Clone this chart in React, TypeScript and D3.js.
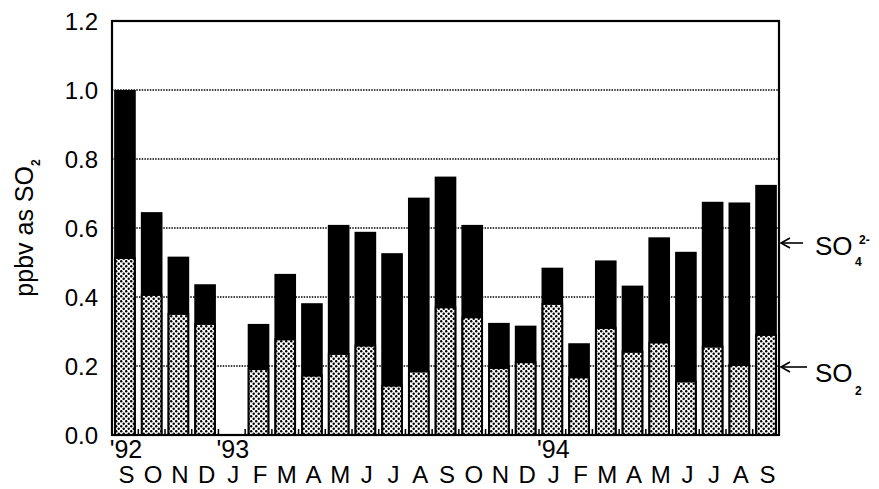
import React, { useRef, useEffect } from "react";
import * as d3 from "d3";

// months Sep '92 .. Sep '94 (Jan '93 has no data)
const periods = [
  "1992-09", "1992-10", "1992-11", "1992-12", "1993-01", "1993-02", "1993-03",
  "1993-04", "1993-05", "1993-06", "1993-07", "1993-08", "1993-09", "1993-10",
  "1993-11", "1993-12", "1994-01", "1994-02", "1994-03", "1994-04", "1994-05",
  "1994-06", "1994-07", "1994-08", "1994-09",
];
const monthLabels = ["S", "O", "N", "D", "J", "F", "M", "A", "M", "J", "J", "A", "S",
  "O", "N", "D", "J", "F", "M", "A", "M", "J", "J", "A", "S"];
const yearLabels = [
  { period: "1992-09", label: "'92" },
  { period: "1993-01", label: "'93" },
  { period: "1994-01", label: "'94" },
];

// ppbv as SO2
const so2 = [0.513, 0.406, 0.351, 0.322, null, 0.191, 0.277, 0.172, 0.235, 0.259, 0.143,
  0.184, 0.370, 0.341, 0.194, 0.211, 0.380, 0.167, 0.310, 0.241, 0.268, 0.155, 0.256,
  0.203, 0.290];
const so4 = [0.487, 0.240, 0.166, 0.115, null, 0.131, 0.190, 0.210, 0.374, 0.330, 0.384,
  0.504, 0.379, 0.268, 0.131, 0.106, 0.105, 0.099, 0.196, 0.192, 0.305, 0.376, 0.420,
  0.471, 0.435];

const yTicks = [0, 0.2, 0.4, 0.6, 0.8, 1.0, 1.2];

const FONT = "'Liberation Sans', Arial, Helvetica, sans-serif";

const App = () => {
  const ref = useRef<SVGSVGElement>(null);

  useEffect(() => {
    if (!ref.current) return;
    const svg = d3.select(ref.current);
    svg.selectAll("*").remove();

    const left = 112, right = 779, top = 21, bottom = 435;

    const x = d3.scaleBand<string>()
      .domain(periods)
      .range([left, right])
      .paddingInner(0.19)
      .paddingOuter(0.08);
    const y = d3.scaleLinear().domain([0, 1.2]).range([bottom, top]);

    // stipple pattern for SO2
    const pat = svg.append("defs").append("pattern")
      .attr("id", "stipple")
      .attr("patternUnits", "userSpaceOnUse")
      .attr("width", 5)
      .attr("height", 5);
    pat.append("rect").attr("width", 5).attr("height", 5).attr("fill", "#fff");
    pat.append("circle").attr("cx", 1.2).attr("cy", 1.2).attr("r", 1.2).attr("fill", "#000");
    pat.append("circle").attr("cx", 3.7).attr("cy", 3.7).attr("r", 1.2).attr("fill", "#000");

    // dotted gridlines
    svg.append("g")
      .selectAll("line")
      .data(yTicks.filter(t => t > 0 && t < 1.2))
      .join("line")
      .attr("x1", left)
      .attr("x2", right)
      .attr("y1", d => y(d))
      .attr("y2", d => y(d))
      .attr("stroke", "#000")
      .attr("stroke-width", 1.3)
      .attr("stroke-dasharray", "1.5,1.2");

    const data = periods.map((p, i) => ({ p, so2: so2[i], so4: so4[i] }))
      .filter(d => d.so2 != null);

    const bars = svg.append("g").selectAll("g").data(data).join("g");
    bars.append("rect")
      .attr("x", d => x(d.p)!)
      .attr("width", x.bandwidth())
      .attr("y", d => y(d.so2! + d.so4!))
      .attr("height", d => y(0) - y(d.so2! + d.so4!))
      .attr("fill", "#000");
    bars.append("rect")
      .attr("x", d => x(d.p)! + 1)
      .attr("width", x.bandwidth() - 2)
      .attr("y", d => y(d.so2!))
      .attr("height", d => y(0) - y(d.so2!))
      .attr("fill", "url(#stipple)")
      .attr("stroke", "#000")
      .attr("stroke-width", 2);

    // bottom ticks at band boundaries
    const step = x.step();
    const edges = periods.map(p => x(p)! - (step - x.bandwidth()) / 2).slice(1);
    svg.append("g")
      .selectAll("line")
      .data(edges)
      .join("line")
      .attr("x1", d => d)
      .attr("x2", d => d)
      .attr("y1", bottom)
      .attr("y2", bottom - 6)
      .attr("stroke", "#000")
      .attr("stroke-width", 1.5);

    // frame
    svg.append("rect")
      .attr("x", left)
      .attr("y", top)
      .attr("width", right - left)
      .attr("height", bottom - top)
      .attr("fill", "none")
      .attr("stroke", "#000")
      .attr("stroke-width", 2.2);

    // y tick labels
    svg.append("g")
      .selectAll("text")
      .data(yTicks)
      .join("text")
      .attr("x", 98)
      .attr("y", d => y(d))
      .attr("dy", "0.36em")
      .attr("text-anchor", "end")
      .attr("font-family", FONT)
      .attr("font-size", 24)
      .text(d => d3.format(".1f")(d));

    // y axis title
    const yt = svg.append("text")
      .attr("transform", "translate(33,228) rotate(-90)")
      .attr("text-anchor", "middle")
      .attr("font-family", FONT)
      .attr("font-size", 25);
    yt.append("tspan").text("ppbv as SO");
    yt.append("tspan").attr("font-size", 12).attr("font-weight", "bold").attr("dy", 7).text("2");

    // month labels
    svg.append("g")
      .selectAll("text")
      .data(periods)
      .join("text")
      .attr("x", (d) => x(d)! + x.bandwidth() / 2 + 1.5)
      .attr("y", 483)
      .attr("text-anchor", "middle")
      .attr("font-family", FONT)
      .attr("font-size", 24)
      .text((d, i) => monthLabels[i]);

    // year labels
    svg.append("g")
      .selectAll("text")
      .data(yearLabels)
      .join("text")
      .attr("x", d => x(d.period)! + x.bandwidth() / 2 + 1)
      .attr("y", 458)
      .attr("text-anchor", "middle")
      .attr("font-family", FONT)
      .attr("font-size", 25)
      .text(d => d.label);

    // right annotations with arrows
    const arrow = (yy: number, len: number) => {
      const g = svg.append("g").attr("stroke", "#000").attr("stroke-width", 1.6).attr("fill", "none");
      g.append("line").attr("x1", right + 2).attr("x2", right + 2 + len).attr("y1", yy).attr("y2", yy);
      g.append("polyline")
        .attr("points", `${right + 11},${yy - 5} ${right + 2},${yy} ${right + 11},${yy + 5}`);
    };
    arrow(243, 22);
    arrow(367, 26);

    const s4 = svg.append("g").attr("font-family", FONT);
    s4.append("text").attr("x", 815).attr("y", 255).attr("font-size", 26).text("SO");
    s4.append("text").attr("x", 855).attr("y", 266).attr("font-size", 12).attr("font-weight", "bold").text("4");
    s4.append("text").attr("x", 859).attr("y", 244).attr("font-size", 12).attr("font-weight", "bold").text("2-");

    const s2 = svg.append("g").attr("font-family", FONT);
    s2.append("text").attr("x", 815).attr("y", 382).attr("font-size", 26).text("SO");
    s2.append("text").attr("x", 855).attr("y", 395).attr("font-size", 12).attr("font-weight", "bold").text("2");
  }, []);

  return (
    <div style={{ position: "absolute", left: 0, top: 0 }}>
      <svg ref={ref} width={879} height={489} style={{ display: "block", background: "#fff" }} />
    </div>
  );
};

export default App;
